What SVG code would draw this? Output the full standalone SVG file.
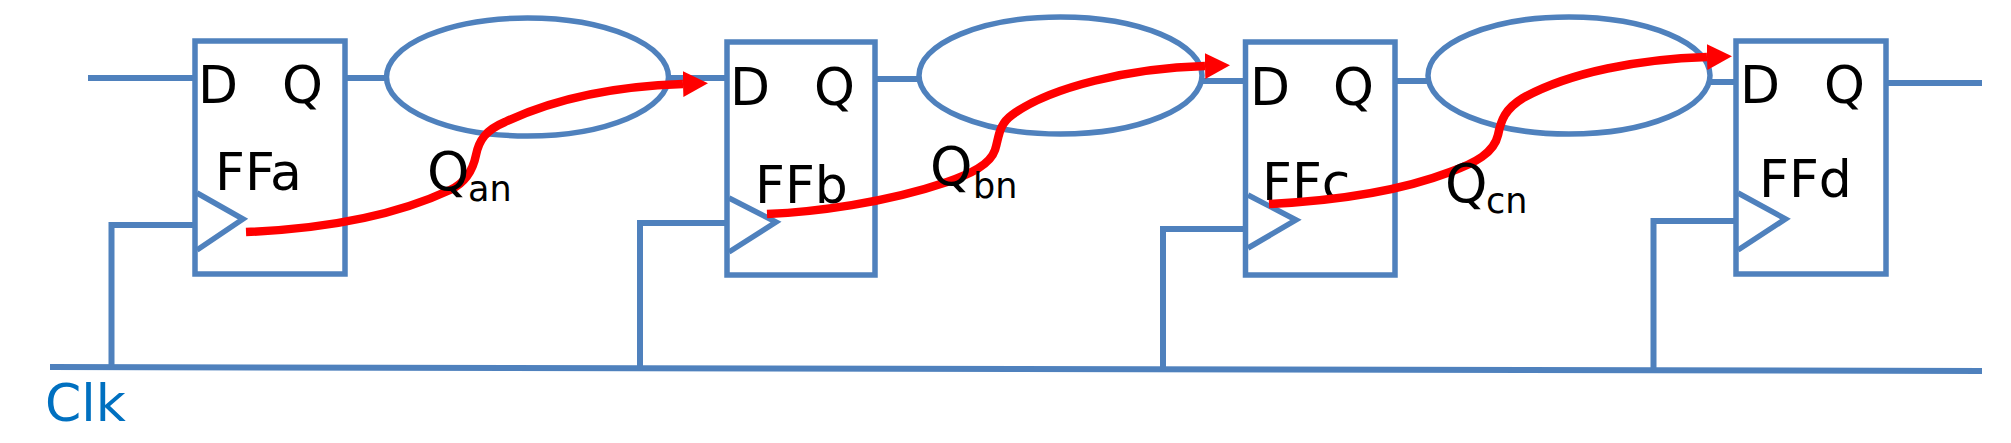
<svg xmlns="http://www.w3.org/2000/svg" width="2011" height="443" viewBox="0 0 2011 443">
<style>
text{font-family:"DejaVu Sans",Verdana,sans-serif;fill:#000}
.t{font-size:52px}
.q{font-size:54px}
.s{font-size:35px}
.clk{font-size:52px;fill:#0070C0}
.b{fill:none;stroke:#4F81BD;stroke-width:5.500}
.e{fill:none;stroke:#4F81BD;stroke-width:5.500}
.w{fill:none;stroke:#4F81BD;stroke-width:6}
.r{fill:none;stroke:#FF0000;stroke-width:8.500;marker-end:url(#a)}
</style>
<defs>
<marker id="a" markerUnits="userSpaceOnUse" markerWidth="26" markerHeight="28" refX="0" refY="13" orient="auto"><path d="M0 0L25 13L0 26Z" fill="#FF0000"/></marker>
</defs>
<g id="connectors">
<path class="w" d="M88 78H195"/><path class="w" d="M345 78H386"/><path class="w" d="M669 78H727"/>
<path class="w" d="M875 79H919"/><path class="w" d="M1202 81H1245"/>
<path class="w" d="M1395 81H1428"/><path class="w" d="M1710 82H1736"/><path class="w" d="M1886 83H1982"/>
<path class="w" d="M50 367L1982 371"/>
<path class="w" d="M111.500 367V225H195"/>
<path class="w" d="M640 368V223H727"/>
<path class="w" d="M1163 369V229H1245"/>
<path class="w" d="M1653.500 370V221H1736"/>
</g>
<g id="FFa">
<rect class="b" x="195" y="41" width="150" height="233"/>
<path class="b" d="M197 193L243 219L197 250"/>
<text class="t" x="198" y="103">D</text><text class="t" x="282" y="103">Q</text><text class="t" x="215" y="190">FFa</text>
</g>
<g id="FFb">
<rect class="b" x="727" y="42" width="148" height="233"/>
<path class="b" d="M729 198L776 222L729 252"/>
<text class="t" x="730" y="105">D</text><text class="t" x="814" y="105">Q</text><text class="t" x="755" y="203">FFb</text>
</g>
<g id="FFc">
<rect class="b" x="1245.500" y="42" width="149.500" height="233"/>
<path class="b" d="M1248 195L1296 220L1248 248"/>
<text class="t" x="1250" y="105">D</text><text class="t" x="1333" y="105">Q</text><text class="t" x="1262" y="200">FFc</text>
</g>
<g id="FFd">
<rect class="b" x="1736" y="41" width="150" height="233"/>
<path class="b" d="M1738 193L1785.500 219L1738 250"/>
<text class="t" x="1740" y="103">D</text><text class="t" x="1824" y="103">Q</text><text class="t" x="1759" y="197">FFd</text>
</g>
<g id="logic-a"><ellipse class="e" cx="527.500" cy="77" rx="141" ry="59"/></g>
<g id="logic-b"><ellipse class="e" cx="1060.500" cy="75.500" rx="141.500" ry="58.500"/></g>
<g id="logic-c"><ellipse class="e" cx="1569" cy="75.500" rx="141" ry="58.500"/></g>
<g id="paths">
<path class="r" d="M246 232C320 229 390 218 450 190C465 183 473 170 476 155C479 140 486 130 505 122C560 96 620 86 683 84"/>
<path class="r" d="M767 214C815 212 885 203 947 182C970 174 990 165 995 150C999 138 998 125 1012 115C1050 87 1130 68 1205 66"/>
<path class="r" d="M1269 204C1330 201 1395 193 1450 172C1475 163 1494 153 1498 135C1501 120 1505 109 1523 98C1570 72 1640 59 1707 57"/>
</g>
<g id="label-an"><text class="q" x="427" y="190">Q</text><text class="s" x="468" y="201">an</text></g>
<g id="label-bn"><text class="q" x="930" y="185">Q</text><text class="s" x="973" y="198">bn</text></g>
<g id="label-cn"><text class="q" x="1445" y="202">Q</text><text class="s" x="1486" y="213">cn</text></g>
<g id="label-clk"><text class="clk" x="45" y="421">Clk</text></g>
</svg>
